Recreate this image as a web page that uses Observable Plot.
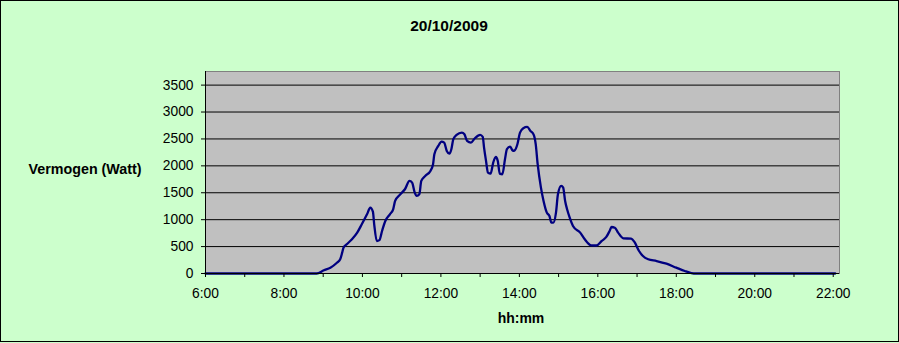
<!DOCTYPE html>
<html>
<head>
<meta charset="utf-8">
<script src="https://cdn.jsdelivr.net/npm/d3@7"></script>
<script src="https://cdn.jsdelivr.net/npm/@observablehq/plot@0.6"></script>
<style>
  html, body { margin: 0; padding: 0; background: #ffffff; }
  #chart svg { display: block; }
</style>
</head>
<body>
<div id="chart"></div>
<script>
const title = "20/10/2009";
const yTitle = "Vermogen (Watt)";
const xTitle = "hh:mm";

const times = ["6:00","8:50","9:01","9:11","9:21","9:26","9:29","9:31","9:36","9:44","9:52","9:59",
  "10:07","10:12","10:16","10:18","10:22","10:26","10:30","10:35","10:42","10:47","10:50","10:58",
  "11:05","11:12","11:16","11:20","11:23","11:27","11:30","11:36","11:44","11:48","11:50","11:56",
  "12:01","12:05","12:09","12:13","12:16","12:19","12:24","12:32","12:36","12:40","12:46","12:52",
  "13:00","13:04","13:06","13:09","13:12","13:16","13:20","13:24","13:27","13:30","13:34","13:38","13:41","13:46","13:50","13:53","13:57",
  "14:01","14:06","14:12","14:17","14:22","14:25","14:28","14:33","14:37","14:42","14:46","14:49","14:52","14:56","14:59",
  "15:04","15:07","15:10","15:13","15:17","15:22","15:33","15:40","15:50","15:58",
  "16:06","16:13","16:18","16:21","16:26","16:31","16:39","16:51","16:56",
  "17:03","17:09","17:17","17:30","17:45","18:00","18:13","18:23","18:30","22:03"];
const watts = [0,0,60,108,200,264,387,480,543,636,759,914,
  1100,1223,1149,914,604,620,790,976,1100,1193,1348,1472,
  1565,1720,1688,1502,1441,1472,1720,1813,1906,2030,2216,2370,
  2450,2432,2277,2227,2309,2495,2575,2618,2588,2463,2432,2513,
  2575,2538,2339,2092,1874,1855,2060,2166,2092,1855,1844,2123,2309,2357,2277,2290,2402,
  2618,2699,2723,2649,2575,2402,2030,1595,1348,1131,1069,944,944,1131,1472,
  1627,1595,1348,1193,1037,883,759,636,524,520,
  604,679,790,864,851,759,654,647,586,
  418,325,264,232,182,108,46,9,0,0];

const yTicks = [0,500,1000,1500,2000,2500,3000,3500];
const yTickLabels = ["0","500","1000","1500","2000","2500","3000","3500"];
const xTickHours = [6,7,8,9,10,11,12,13,14,15,16,17,18,19,20,21,22];
const xTickLabels = ["6:00","8:00","10:00","12:00","14:00","16:00","18:00","20:00","22:00"];

const toHours = s => { const [h, m] = s.split(":").map(Number); return h + m / 60; };
const data = times.map((t, i) => ({hour: toHours(t), watt: watts[i]}));

const W = 899, H = 343;
const FONT = "'Liberation Sans', Arial, sans-serif";

const chart = Plot.plot({
  width: W,
  height: H,
  marginLeft: 205,
  marginRight: 60,
  marginTop: 71,
  marginBottom: 70,
  style: {background: "#CCFFCC", fontFamily: FONT, fontSize: "13.8px", color: "#000"},
  x: {type: "linear", domain: [6, 22.16], label: null},
  y: {domain: [0, 3753], label: null},
  marks: [
    Plot.frame({fill: "#C0C0C0", stroke: "#808080"}),
    Plot.ruleY(yTicks.filter(d => d > 0), {stroke: "#000", strokeWidth: 1}),
    Plot.line(data, {x: "hour", y: "watt", stroke: "#000080", strokeWidth: 2.3, curve: "monotone-x"}),
    Plot.ruleY([0], {stroke: "#000", strokeWidth: 1}),
    Plot.ruleX([6], {stroke: "#000", strokeWidth: 1}),
    Plot.axisY({ticks: yTicks, tickSize: 4, tickPadding: 8, stroke: "#000", fill: "#000", fontSize: 13.8, label: null,
      tickFormat: d => yTickLabels[yTicks.indexOf(d)]}),
    Plot.axisX({ticks: xTickHours, tickSize: 4, tickPadding: 11, stroke: "#000", fill: "#000", fontSize: 13.8, label: null,
      tickFormat: d => (d % 2 === 0 ? xTickLabels[(d - 6) / 2] : "")})
  ]
});

const svg = d3.select(chart);
svg.append("rect")
  .attr("x", 0.5).attr("y", 0.5).attr("width", 898).attr("height", 341)
  .attr("fill", "none").attr("stroke", "#000").attr("stroke-width", 1);
svg.append("text").text(title)
  .attr("x", 449).attr("y", 31).attr("text-anchor", "middle")
  .attr("font-family", FONT).attr("font-weight", "bold").attr("font-size", 15.5).attr("fill", "#000");
svg.append("text").text(yTitle)
  .attr("x", 28.5).attr("y", 174).attr("text-anchor", "start")
  .attr("font-family", FONT).attr("font-weight", "bold").attr("font-size", 14.3).attr("fill", "#000");
svg.append("text").text(xTitle)
  .attr("x", 521).attr("y", 322.5).attr("text-anchor", "middle")
  .attr("font-family", FONT).attr("font-weight", "bold").attr("font-size", 14).attr("fill", "#000");

document.getElementById("chart").appendChild(chart);
</script>
</body>
</html>
